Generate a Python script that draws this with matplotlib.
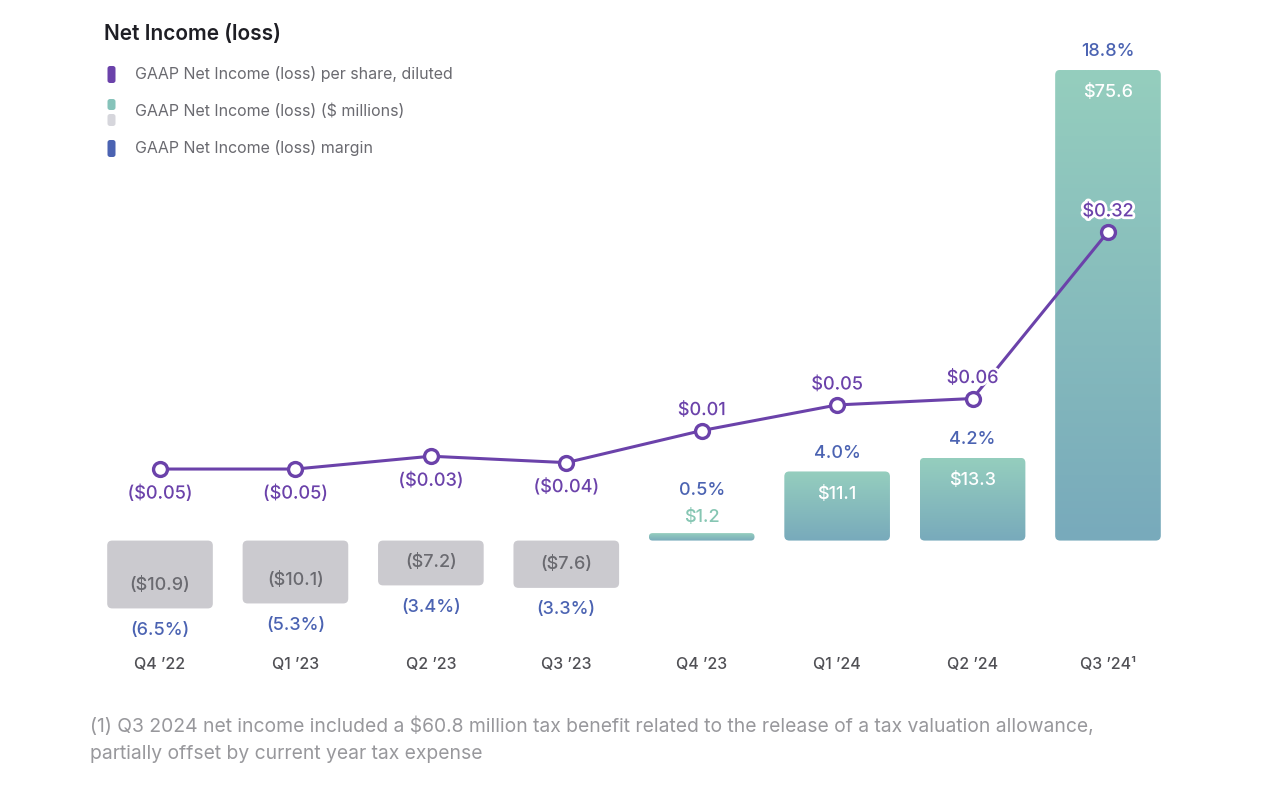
import matplotlib
matplotlib.use("Agg")
import matplotlib.pyplot as plt
import numpy as np
from matplotlib.patches import FancyBboxPatch
from matplotlib.colors import LinearSegmentedColormap
from matplotlib.transforms import IdentityTransform
import matplotlib.patheffects as pe

# ---------------- data ----------------
quarters = ["Q4 \u201922", "Q1 \u201923", "Q2 \u201923", "Q3 \u201923",
            "Q4 \u201923", "Q1 \u201924", "Q2 \u201924", "Q3 \u201924\u00b9"]
net_income = [-10.9, -10.1, -7.2, -7.6, 1.2, 11.1, 13.3, 75.6]          # $ millions
net_income_labels = ["($10.9)", "($10.1)", "($7.2)", "($7.6)", "$1.2", "$11.1", "$13.3", "$75.6"]
margin_labels = ["(6.5%)", "(5.3%)", "(3.4%)", "(3.3%)", "0.5%", "4.0%", "4.2%", "18.8%"]
eps = [-0.05, -0.05, -0.03, -0.04, 0.01, 0.05, 0.06, 0.32]
eps_labels = ["($0.05)", "($0.05)", "($0.03)", "($0.04)", "$0.01", "$0.05", "$0.06", "$0.32"]

title = "Net Income (loss)"
legend_items = ["GAAP Net Income (loss) per share, diluted",
                "GAAP Net Income (loss) ($ millions)",
                "GAAP Net Income (loss) margin"]
footnote = ("(1) Q3 2024 net income included a $60.8 million tax benefit related to the release of a tax valuation allowance,\n"
            "partially offset by current year tax expense")

# ---------------- style ----------------
FONT = ["Inter", "DejaVu Sans"]
plt.rcParams["font.family"] = FONT
PURPLE = "#6B42AA"
BLUE = "#4B63B2"
GRAY_BAR = "#CBCACF"
GRAY_TXT = "#6A6A70"
TEAL_TOP = "#95CEBE"
TEAL_BOT = "#78AABB"
TEAL_TXT = "#86C6B3"
AXIS_TXT = "#505055"
LBL_W = "medium"

W, H = 1280, 786
fig = plt.figure(figsize=(W / 100, H / 100), dpi=100)
fig.patch.set_facecolor("white")

# axes placement in pixels
x0_px, x1_px = 92.3, 1175.7
top_px, bot_px = 40, 640
ax = fig.add_axes([x0_px / W, (H - bot_px) / H, (x1_px - x0_px) / W, (bot_px - top_px) / H])
YLIM = (-15.97, 80.4)
ax.set_xlim(-0.5, 7.5)
ax.set_ylim(*YLIM)
ax.axis("off")

x = np.arange(len(quarters))
bw = 0.78
bars = ax.bar(x, net_income, width=bw, color="none", edgecolor="none")

fig.canvas.draw()
# aspect for round corners
p0 = ax.transData.transform((0, 0))
p1 = ax.transData.transform((1, 1))
px_per_x = p1[0] - p0[0]
px_per_y = p1[1] - p0[1]
r_px = 5.0
aspect = px_per_x / px_per_y

cmap = LinearSegmentedColormap.from_list("tg", [TEAL_TOP, TEAL_BOT])
grad = np.linspace(0, 1, 256).reshape(-1, 1)

for b, v in zip(bars, net_income):
    bx, by = b.get_x(), b.get_y()
    bwid, bh = b.get_width(), b.get_height()
    ylo, yhi = min(by, by + bh), max(by, by + bh)
    h_px = (yhi - ylo) * px_per_y
    rs = min(r_px, h_px / 2) / px_per_x
    patch = FancyBboxPatch((bx, ylo), bwid, yhi - ylo,
                           boxstyle=f"round,pad=0,rounding_size={rs}",
                           mutation_aspect=aspect, linewidth=0,
                           facecolor=GRAY_BAR if v < 0 else "none", zorder=2)
    ax.add_patch(patch)
    if v >= 0:
        im = ax.imshow(grad, cmap=cmap, extent=(bx, bx + bwid, ylo, yhi),
                       aspect="auto", origin="upper", zorder=2, interpolation="bilinear")
        im.set_clip_path(patch)

ax.set_xlim(-0.5, 7.5)
ax.set_ylim(*YLIM)


def lab(axis, text, xy, dy, color, size=13, weight=LBL_W):
    return axis.annotate(text, xy, xytext=(0, dy), textcoords="offset pixels",
                         ha="center", va="center", fontsize=size, color=color,
                         fontweight=weight, zorder=7)


# bar labels
for i, v in enumerate(net_income):
    if v < 0:
        lab(ax, net_income_labels[i], (x[i], v), 23, GRAY_TXT)
        lab(ax, margin_labels[i], (x[i], v), -22, BLUE)
    elif v < 5:
        lab(ax, net_income_labels[i], (x[i], v), 16, TEAL_TXT)
        lab(ax, margin_labels[i], (x[i], v), 43, BLUE)
    else:
        lab(ax, net_income_labels[i], (x[i], v), -23, "white")
        lab(ax, margin_labels[i], (x[i], v), 18, BLUE)

# x labels
for i, q in enumerate(quarters):
    ax.annotate(q, (x[i], 0), xycoords=("data", "axes fraction"), xytext=(0, -24),
                textcoords="offset pixels", ha="center", va="center", fontsize=11.5,
                color=AXIS_TXT, fontweight="medium")

# EPS line on twin axis
ax2 = ax.twinx()
ax2.set_ylim(-0.3167, 0.6193)
ax2.axis("off")
ax2.plot(x, eps, color=PURPLE, lw=2.2, marker="o", ms=10, mfc="white", mec=PURPLE, mew=2.4,
         zorder=6, solid_capstyle="round")
for i, v in enumerate(eps):
    dy = -25 if v < 0 else 20
    t = lab(ax2, eps_labels[i], (x[i], v), dy, PURPLE)
    t.set_path_effects([pe.withStroke(linewidth=4, foreground="white")])

# title & legend
fig.text(104 / W, 1 - 34 / H, title, fontsize=15, fontweight="semibold", color="#1E1E24",
         ha="left", va="center")
leg_y = [74, 111, 148]
for yy, labtxt in zip(leg_y, legend_items):
    fig.text(135 / W, 1 - yy / H, labtxt, fontsize=11.5, color=GRAY_TXT, ha="left", va="center")


def leg_mark(xc, ytop, ybot, color, w=8):
    p = FancyBboxPatch((xc - w / 2, H - ybot), w, ybot - ytop,
                       boxstyle="round,pad=0,rounding_size=2.5",
                       transform=IdentityTransform(), facecolor=color, linewidth=0)
    fig.patches.append(p)


leg_mark(111.5, 66, 83, PURPLE)
leg_mark(111.5, 99, 110, "#86C3BA")
leg_mark(111.5, 114, 126, "#D6D6DC")
leg_mark(111.5, 140, 157, BLUE)

# footnote
fig.text(90 / W, 1 - 740 / H, footnote, fontsize=13.9, color="#98989C", ha="left", va="center",
         linespacing=1.65)

fig.savefig("out.png", dpi=100)
